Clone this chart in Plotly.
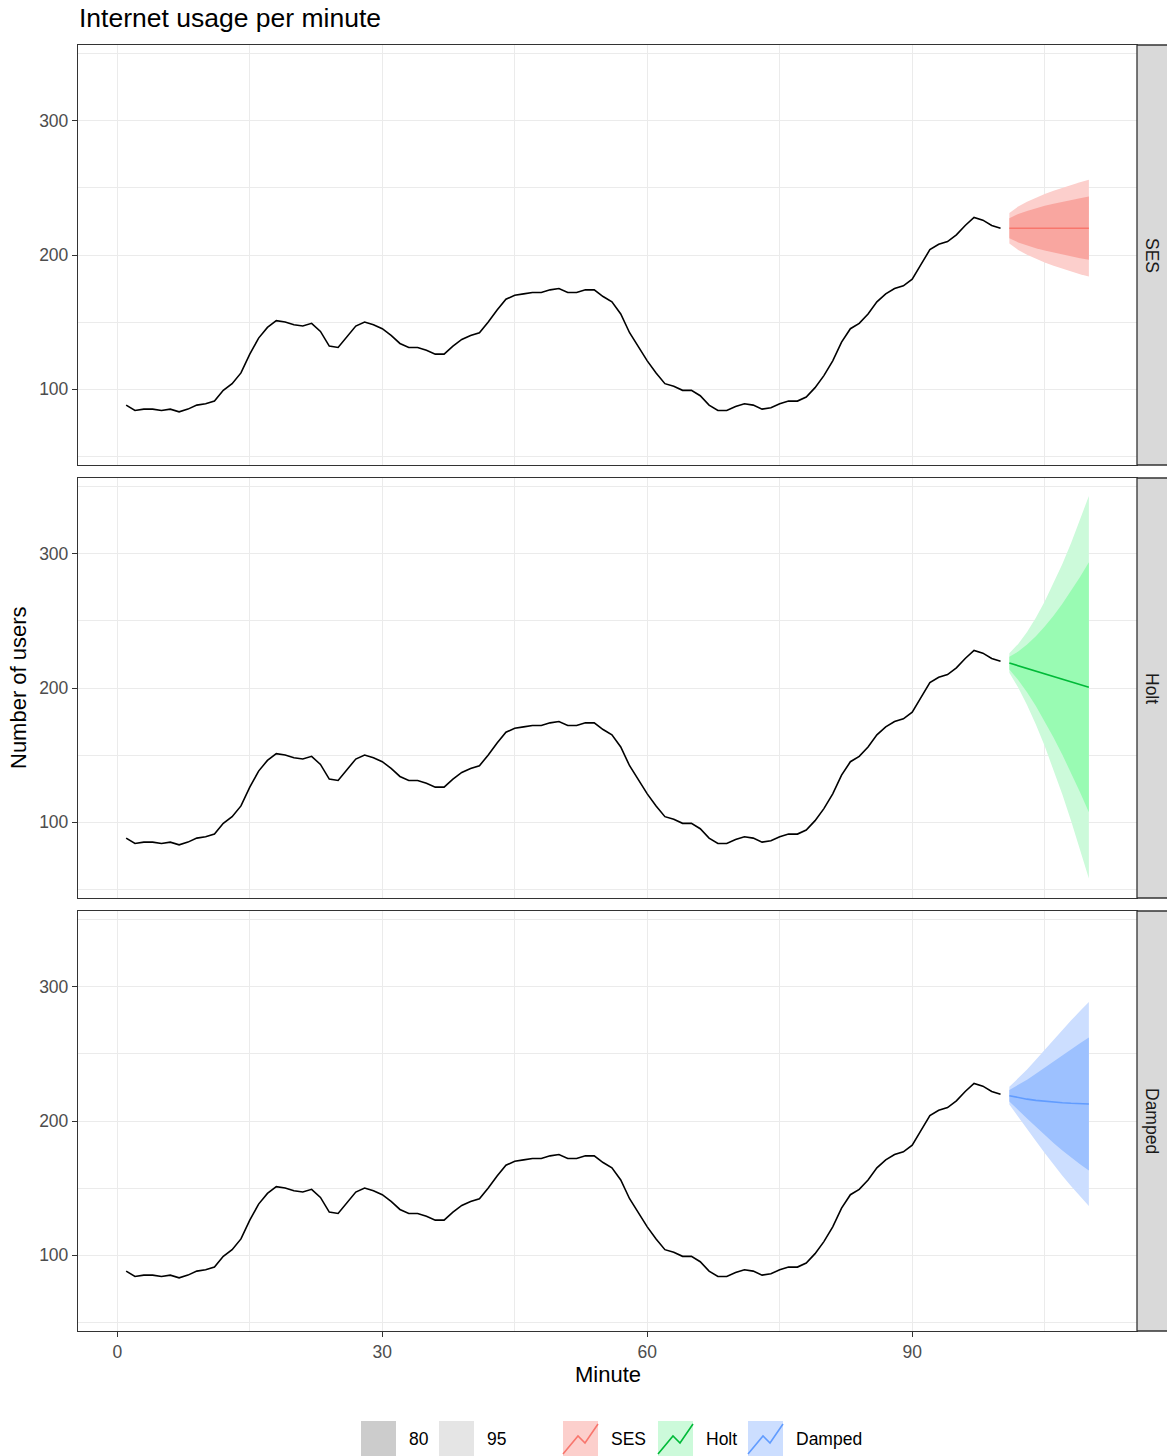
import plotly.graph_objects as go

# ---------------- data ----------------
minute = list(range(1, 101))
usage = [88, 84, 85, 85, 84, 85, 83, 85, 88, 89, 91, 99, 104, 112, 126, 138, 146, 151, 150, 148,
         147, 149, 143, 132, 131, 139, 147, 150, 148, 145, 140, 134, 131, 131, 129, 126, 126, 132, 137, 140,
         142, 150, 159, 167, 170, 171, 172, 172, 174, 175, 172, 172, 174, 174, 169, 165, 156, 142, 131, 121,
         112, 104, 102, 99, 99, 95, 88, 84, 84, 87, 89, 88, 85, 86, 89, 91, 91, 94, 101, 110,
         121, 135, 145, 149, 156, 165, 171, 175, 177, 182, 193, 204, 208, 210, 215, 222, 228, 226, 222, 220]

fc_minute = [101, 102, 103, 104, 105, 106, 107, 108, 109, 110]

ses_mean = [220.0, 220.0, 220.0, 220.0, 220.0, 220.0, 220.0, 220.0, 220.0, 220.0]
ses_lo80 = [212.5, 209.4, 207.1, 205.1, 203.3, 201.7, 200.2, 198.9, 197.6, 196.4]
ses_hi80 = [227.5, 230.6, 232.9, 234.9, 236.7, 238.3, 239.8, 241.1, 242.4, 243.6]
ses_lo95 = [208.6, 203.8, 200.2, 197.1, 194.4, 192.0, 189.8, 187.7, 185.7, 183.9]
ses_hi95 = [231.4, 236.2, 239.8, 242.9, 245.6, 248.0, 250.2, 252.3, 254.3, 256.1]

holt_mean = [218.6, 216.6, 214.6, 212.6, 210.6, 208.5, 206.5, 204.5, 202.5, 200.5]
holt_lo80 = [213.8, 206.0, 196.8, 186.6, 175.3, 163.1, 150.2, 136.6, 122.2, 107.2]
holt_hi80 = [223.4, 227.2, 232.4, 238.6, 245.9, 253.9, 262.8, 272.4, 282.8, 293.8]
holt_lo95 = [211.3, 200.3, 187.4, 172.8, 156.7, 139.1, 120.5, 100.6, 79.7, 57.8]
holt_hi95 = [225.9, 232.9, 241.8, 252.4, 264.5, 277.9, 292.5, 308.4, 325.3, 343.2]

damp_mean = [218.9, 217.5, 216.3, 215.4, 214.7, 214.1, 213.6, 213.2, 212.9, 212.7]
damp_lo80 = [214.6, 208.3, 201.8, 195.6, 189.5, 183.6, 178.0, 172.7, 167.7, 163.0]
damp_hi80 = [223.2, 226.7, 230.8, 235.2, 239.9, 244.6, 249.2, 253.7, 258.1, 262.4]
damp_lo95 = [212.3, 203.4, 194.2, 185.1, 176.2, 167.5, 159.2, 151.3, 143.8, 136.6]
damp_hi95 = [225.5, 231.6, 238.4, 245.7, 253.2, 260.7, 268.0, 275.1, 282.0, 288.8]

model_names = ["SES", "Holt", "Damped"]
line_colors = ["#F8766D", "#00BA38", "#619CFF"]
fill95 = ["#FCCFCC", "#CCFADA", "#CCDEFF"]
fill80 = ["#F9A6A0", "#99FBB3", "#9DC1FF"]

x_ticks = [0, 30, 60, 90]
y_ticks = [100, 200, 300]

# ---------------- layout helpers (pixel geometry) ----------------
W, H = 1167, 1456
L, R, T, B = 78, 1137, 45, 1331
PW, PH = R - L, B - T


def px(x):
    return (x - L) / PW


def py(y):
    return (B - y) / PH


panels = [(45, 465), (478, 898), (911, 1331)]
domains = [[py(b), py(t)] for (t, b) in panels]

forecasts = [
    (ses_mean, ses_lo80, ses_hi80, ses_lo95, ses_hi95),
    (holt_mean, holt_lo80, holt_hi80, holt_lo95, holt_hi95),
    (damp_mean, damp_lo80, damp_hi80, damp_lo95, damp_hi95),
]

fig = go.Figure()

for i, (mean, lo80, hi80, lo95, hi95) in enumerate(forecasts):
    xa = "x" if i == 0 else f"x{i+1}"
    ya = "y" if i == 0 else f"y{i+1}"
    fig.add_trace(go.Scatter(x=minute, y=usage, mode="lines",
                             line=dict(color="black", width=1.6),
                             xaxis=xa, yaxis=ya, showlegend=False, hoverinfo="skip"))
    fig.add_trace(go.Scatter(x=fc_minute + fc_minute[::-1], y=hi95 + lo95[::-1],
                             fill="toself", fillcolor=fill95[i], mode="lines",
                             line=dict(width=0), xaxis=xa, yaxis=ya, showlegend=False, hoverinfo="skip"))
    fig.add_trace(go.Scatter(x=fc_minute + fc_minute[::-1], y=hi80 + lo80[::-1],
                             fill="toself", fillcolor=fill80[i], mode="lines",
                             line=dict(width=0), xaxis=xa, yaxis=ya, showlegend=False, hoverinfo="skip"))
    fig.add_trace(go.Scatter(x=fc_minute, y=mean, mode="lines",
                             line=dict(color=line_colors[i], width=1.6),
                             xaxis=xa, yaxis=ya, showlegend=False, hoverinfo="skip"))

tickfont = dict(family="Liberation Sans, Arial, sans-serif", size=17.5, color="#4D4D4D")
grid = "#EBEBEB"

layout = dict(
    width=W, height=H,
    margin=dict(l=L, r=W - R, t=T, b=H - B, pad=0),
    paper_bgcolor="white", plot_bgcolor="white",
    showlegend=False,
    font=dict(family="Liberation Sans, Arial, sans-serif", color="black"),
)

for i in range(3):
    xk = "xaxis" if i == 0 else f"xaxis{i+1}"
    yk = "yaxis" if i == 0 else f"yaxis{i+1}"
    xa_anchor = "y" if i == 0 else f"y{i+1}"
    ya_anchor = "x" if i == 0 else f"x{i+1}"
    bottom = (i == 2)
    layout[xk] = dict(
        domain=[0, 1], anchor=xa_anchor, range=[-4.45, 115.45],
        tickmode="array", tickvals=x_ticks, ticktext=[str(v) for v in x_ticks],
        showticklabels=bottom, ticks="outside" if bottom else "",
        ticklen=5, tickwidth=1.3, tickcolor="#333333", tickfont=tickfont,
        showgrid=True, gridcolor=grid, gridwidth=1.3,
        minor=dict(tickvals=[15, 45, 75, 105], showgrid=True, gridcolor=grid, gridwidth=0.8, ticks=""),
        showline=True, linecolor="#333333", linewidth=1.3, mirror=True,
        zeroline=False, fixedrange=True,
    )
    if i > 0:
        layout[xk]["matches"] = "x"
    layout[yk] = dict(
        domain=domains[i], anchor=ya_anchor, range=[43.3, 356.7],
        tickmode="array", tickvals=y_ticks, ticktext=[str(v) for v in y_ticks],
        ticks="outside", ticklen=5, tickwidth=1.3, tickcolor="#333333", tickfont=tickfont,
        showgrid=True, gridcolor=grid, gridwidth=1.3,
        minor=dict(tickvals=[50, 150, 250, 350], showgrid=True, gridcolor=grid, gridwidth=0.8, ticks=""),
        showline=True, linecolor="#333333", linewidth=1.3, mirror=True,
        zeroline=False, fixedrange=True,
    )

fig.update_layout(**layout)

shapes = []
annotations = []

# facet strips
for i, (t, b) in enumerate(panels):
    shapes.append(dict(type="rect", xref="paper", yref="paper",
                       x0=px(R), x1=px(W + 2), y0=py(b), y1=py(t),
                       fillcolor="#D9D9D9", line=dict(color="#333333", width=1.3), layer="above"))
    annotations.append(dict(xref="paper", yref="paper", x=px(1152), y=py((t + b) / 2),
                            text=model_names[i], showarrow=False, textangle=90,
                            xanchor="center", yanchor="middle",
                            font=dict(size=17.5, color="#1A1A1A")))

# title and axis titles
annotations.append(dict(xref="paper", yref="paper", x=px(77), y=py(18), text="Internet usage per minute",
                        showarrow=False, xanchor="left", yanchor="middle",
                        font=dict(size=26.5, color="black")))
annotations.append(dict(xref="paper", yref="paper", x=px((L + R) / 2), y=py(1374), text="Minute",
                        showarrow=False, xanchor="center", yanchor="middle",
                        font=dict(size=22, color="black")))
annotations.append(dict(xref="paper", yref="paper", x=px(18), y=py((T + B) / 2), text="Number of users",
                        showarrow=False, xanchor="center", yanchor="middle", textangle=-90,
                        font=dict(size=22, color="black")))

# legend (drawn manually)
key_top, key_bot = 1421, 1456
key_w = 35
text_y = 1439
level_keys = [("80", 361, "#CCCCCC"), ("95", 439, "#E5E5E5")]
for lab, x0, col in level_keys:
    shapes.append(dict(type="rect", xref="paper", yref="paper",
                       x0=px(x0), x1=px(x0 + key_w), y0=py(key_bot), y1=py(key_top),
                       fillcolor=col, line=dict(width=0)))
    annotations.append(dict(xref="paper", yref="paper", x=px(x0 + key_w + 11), y=py(text_y), text=lab,
                            showarrow=False, xanchor="left", yanchor="middle",
                            font=dict(size=17.5, color="black")))

model_key_x = [563, 658, 748]
for i, x0 in enumerate(model_key_x):
    shapes.append(dict(type="rect", xref="paper", yref="paper",
                       x0=px(x0), x1=px(x0 + key_w), y0=py(key_bot), y1=py(key_top),
                       fillcolor=fill95[i], line=dict(width=0)))
    pts = [(x0, key_top + 33), (x0 + 15, key_top + 15), (x0 + 22, key_top + 22), (x0 + 35, key_top + 3)]
    path = "M " + " L ".join(f"{px(a):.5f},{py(b):.5f}" for a, b in pts)
    shapes.append(dict(type="path", xref="paper", yref="paper", path=path,
                       line=dict(color=line_colors[i], width=1.6)))
    annotations.append(dict(xref="paper", yref="paper", x=px(x0 + key_w + 11), y=py(text_y),
                            text=model_names[i], showarrow=False, xanchor="left", yanchor="middle",
                            font=dict(size=17.5, color="black")))

fig.update_layout(shapes=shapes, annotations=annotations)

fig.write_html("out.html", config={"displayModeBar": False},
               post_script="document.body.style.margin='0';document.body.style.overflow='hidden';")
